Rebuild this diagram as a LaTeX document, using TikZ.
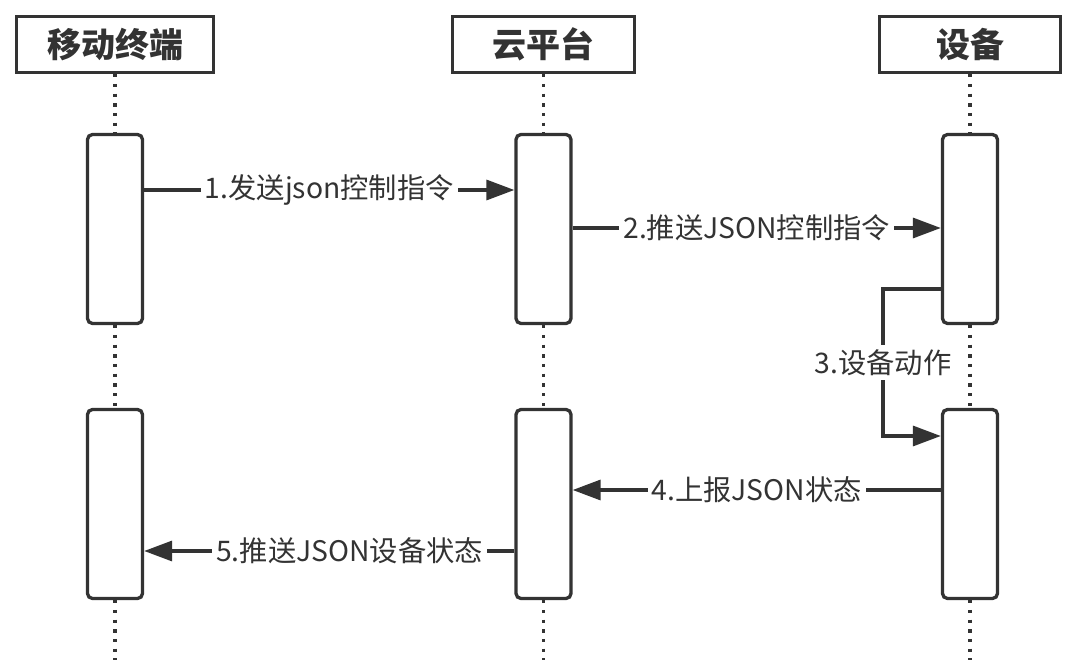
\documentclass[tikz,border=0pt]{standalone}
\usepackage{fontspec}
\setmainfont{Noto Sans CJK SC}
\usetikzlibrary{arrows.meta,positioning}
\definecolor{ink}{HTML}{333333}

\begin{document}
\begin{tikzpicture}[x=1pt,y=-1pt,line width=3.3pt,draw=ink,text=ink,
  >={Triangle[length=28pt,width=20pt]},
  head/.style={draw,rectangle,minimum height=56pt,inner sep=0pt,
    font=\fontsize{34}{40}\selectfont\bfseries},
  bar/.style={draw,rectangle,rounded corners=5pt,minimum width=55pt,
    minimum height=189pt,inner sep=0pt},
  life/.style={dash pattern=on 3.3pt off 6.4pt}]
\useasboundingbox (0,0) rectangle (1079,668);
% participants
\node[head,minimum width=197pt] (Mobile) at (115,44.5) {移动终端};
\node[head,minimum width=182pt] (Cloud) at (543.5,44.5) {云平台};
\node[head,minimum width=181pt] (Device) at (970,44.5) {设备};
% activation bars
\node[bar] (Mobile1) at (115,229) {};
\node[bar] (Mobile2) at (115,504) {};
\node[bar] (Cloud1) at (543.5,229) {};
\node[bar] (Cloud2) at (543.5,504) {};
\node[bar] (Device1) at (970,229) {};
\node[bar] (Device2) at (970,504) {};
\coordinate (MobileEnd) at (115,660);
\coordinate (CloudEnd) at (543.5,660);
\coordinate (DeviceEnd) at (970,660);
% lifelines
\draw[life] (Mobile.south) -- (Mobile1.north) (Mobile1.south) -- (Mobile2.north)
  (Mobile2.south) -- (MobileEnd);
\draw[life] (Cloud.south) -- (Cloud1.north) (Cloud1.south) -- (Cloud2.north)
  (Cloud2.south) -- (CloudEnd);
\draw[life] (Device.south) -- (Device1.north) (Device1.south) -- (Device2.north)
  (Device2.south) -- (DeviceEnd);
% message rows
\coordinate (m1) at (0,190);
\coordinate (m2) at (0,228);
\coordinate (m3a) at (0,289);
\coordinate (m3b) at (0,436);
\coordinate (m4) at (0,490);
\coordinate (m5) at (0,551);
\coordinate (loop) at (883,0);
\begin{scope}[every node/.style={midway,fill=white,inner sep=4pt,
    font=\fontsize{28.3}{32}\selectfont}]
\draw[->] (Mobile1.east |- m1) -- node {1.发送json控制指令} (Cloud1.west |- m1);
\draw[->] (Cloud1.east |- m2) -- node {2.推送JSON控制指令} (Device1.west |- m2);
\draw[->] (Device1.west |- m3a) -- (loop |- m3a)
  -- node {3.设备动作} (loop |- m3b) -- (Device2.west |- m3b);
\draw[->] (Device2.west |- m4) -- node {4.上报JSON状态} (Cloud2.east |- m4);
\draw[->] (Cloud2.west |- m5) -- node[pos=0.445] {5.推送JSON设备状态} (Mobile2.east |- m5);
\end{scope}
\end{tikzpicture}
\end{document}
